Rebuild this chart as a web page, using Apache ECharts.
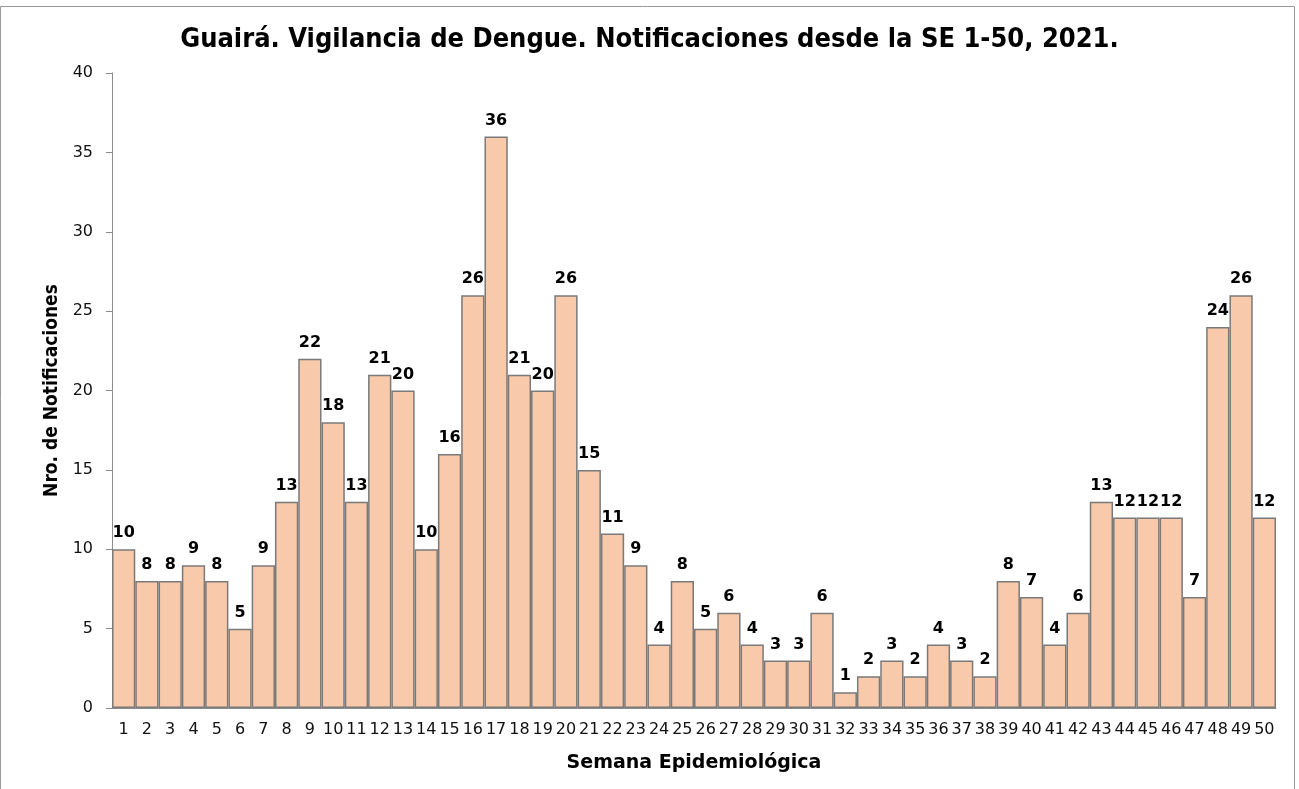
<!DOCTYPE html>
<html>
<head>
<meta charset="utf-8">
<script src="https://cdn.jsdelivr.net/npm/echarts@6/dist/echarts.min.js"></script>
<style>
  html, body { margin: 0; padding: 0; background: #fff; }
  #main { width: 1299px; height: 789px; }
</style>
</head>
<body>
<div id="main"></div>
<script>
// semanas epidemiologicas 1..50
var semanas = [];
for (var i = 1; i <= 50; i++) semanas.push(String(i));

var notificaciones = [10, 8, 8, 9, 8, 5, 9, 13, 22, 18, 13, 21, 20, 10, 16, 26, 36, 21, 20, 26,
  15, 11, 9, 4, 8, 5, 6, 4, 3, 3, 6, 1, 2, 3, 2, 4, 3, 2, 8, 7,
  4, 6, 13, 12, 12, 12, 7, 24, 26, 12];

var yTicks = [0, 5, 10, 15, 20, 25, 30, 35, 40];

var chart = echarts.init(document.getElementById('main'));

var option = {
  animation: false,
  backgroundColor: '#fff',
  title: {
    text: 'Guairá. Vigilancia de Dengue. Notificaciones desde la SE 1-50, 2021.',
    left: 'center',
    top: 21,
    textStyle: {
      fontFamily: 'DejaVu Sans Condensed, DejaVu Sans',
      fontWeight: 'bold',
      fontSize: 27,
      color: '#000'
    }
  },
  graphic: [{
    type: 'rect',
    shape: { x: 0.5, y: 6.5, width: 1294, height: 790 },
    style: { fill: 'none', stroke: '#9a9a9a', lineWidth: 1 },
    silent: true
  }],
  grid: { left: 112, right: 23, top: 73, bottom: 81 },
  xAxis: {
    type: 'category',
    data: semanas,
    name: 'Semana Epidemiológica',
    nameLocation: 'middle',
    nameGap: 46,
    nameTextStyle: {
      fontFamily: 'DejaVu Sans',
      fontWeight: 'bold',
      fontSize: 19,
      color: '#000'
    },
    axisLine: { lineStyle: { color: '#8c8c8c', width: 1 } },
    axisTick: { show: false },
    axisLabel: {
      interval: 0,
      margin: 14,
      fontFamily: 'DejaVu Sans',
      fontSize: 16,
      color: '#111'
    }
  },
  yAxis: {
    type: 'value',
    min: yTicks[0],
    max: yTicks[yTicks.length - 1],
    interval: 5,
    name: 'Nro. de Notificaciones',
    nameLocation: 'middle',
    nameGap: 50,
    nameTextStyle: {
      fontFamily: 'DejaVu Sans Condensed, DejaVu Sans',
      fontWeight: 'bold',
      fontSize: 19,
      color: '#000'
    },
    axisLine: { show: true, lineStyle: { color: '#8c8c8c', width: 1 } },
    axisTick: { show: true, length: 6, lineStyle: { color: '#8c8c8c' } },
    splitLine: { show: false },
    axisLabel: {
      margin: 19,
      fontFamily: 'DejaVu Sans',
      fontSize: 16,
      color: '#111'
    }
  },
  series: [{
    type: 'bar',
    data: notificaciones,
    barCategoryGap: '0%',
    itemStyle: {
      color: '#F8C9AA',
      borderColor: '#7a7a7a',
      borderWidth: 1.5
    },
    label: {
      show: true,
      position: 'top',
      distance: 8,
      fontFamily: 'DejaVu Sans',
      fontWeight: 'bold',
      fontSize: 16,
      color: '#000'
    }
  }]
};

chart.setOption(option);
</script>
</body>
</html>
